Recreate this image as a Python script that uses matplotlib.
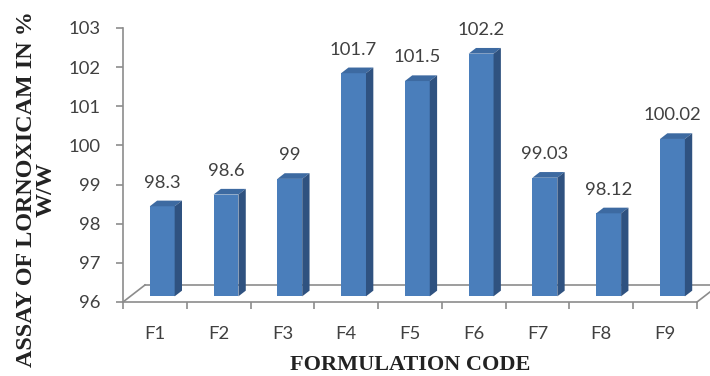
import matplotlib.pyplot as plt
from matplotlib.patches import Polygon

# Assay results per formulation
codes = ['F1', 'F2', 'F3', 'F4', 'F5', 'F6', 'F7', 'F8', 'F9']
assay = [98.3, 98.6, 99, 101.7, 101.5, 102.2, 99.03, 98.12, 100.02]
assay_text = ['98.3', '98.6', '99', '101.7', '101.5', '102.2', '99.03', '98.12', '100.02']
y_ticks = [96, 97, 98, 99, 100, 101, 102, 103]

base = 96
# depth of the 3d floor in data units, and where the columns sit in it
DX, DY = 0.345, 0.435
z0, z1 = 1 / 3, 2 / 3
bar_w = 0.39

front_col = '#4A7EBB'
top_col = '#3D6AA1'
side_col = '#2F5280'
axis_col = '#8C8C8C'
text_col = '#404040'

plt.rcParams['font.family'] = ['Lato', 'DejaVu Sans']


def proj(x, y, z):
    return (x + z * DX, y + z * DY)


fig = plt.figure(figsize=(7.1, 3.76), dpi=100)
ax = fig.add_axes([123 / 710, 74 / 376, 574 / 710, 274 / 376])
ax.set_xlim(-0.5, len(codes) - 0.5)
ax.set_ylim(base, 103)

# floor outline behind the columns
x_lo, x_hi = -0.5, len(codes) - 0.5
floor_kw = dict(color=axis_col, lw=1.2, clip_on=False, zorder=1)
bl = proj(x_lo, base, 1)
br = proj(x_hi, base, 1)
ax.plot([bl[0], br[0]], [bl[1], br[1]], **floor_kw)
ax.plot([x_lo, bl[0]], [base, bl[1]], **floor_kw)
ax.plot([x_hi, br[0]], [base, br[1]], **floor_kw)

# columns: front face, then top and side faces
xs = list(range(len(codes)))
front_x = [proj(x, base, z0)[0] for x in xs]
ax.bar(front_x, [v - base for v in assay], bottom=base + z0 * DY, width=bar_w,
       color=front_col, zorder=3, clip_on=False)

for x, v in zip(front_x, assay):
    xl, xr = x - bar_w / 2, x + bar_w / 2
    top = [(xl, v + z0 * DY), (xr, v + z0 * DY),
           (xr + (z1 - z0) * DX, v + z1 * DY), (xl + (z1 - z0) * DX, v + z1 * DY)]
    side = [(xr, base + z0 * DY), (xr, v + z0 * DY),
            (xr + (z1 - z0) * DX, v + z1 * DY), (xr + (z1 - z0) * DX, base + z1 * DY)]
    ax.add_patch(Polygon(top, closed=True, facecolor=top_col, edgecolor='none',
                         zorder=3, clip_on=False))
    ax.add_patch(Polygon(side, closed=True, facecolor=side_col, edgecolor='none',
                         zorder=3, clip_on=False))

# value labels over each column
for x, v, t in zip(front_x, assay, assay_text):
    ax.annotate(t, (x, v + z1 * DY), xytext=(0, 18), textcoords='offset pixels',
                ha='center', va='center', fontsize=13.3, color=text_col,
                annotation_clip=False)

# axes styling
for s in ['top', 'right']:
    ax.spines[s].set_visible(False)
for s in ['left', 'bottom']:
    ax.spines[s].set_color(axis_col)
    ax.spines[s].set_linewidth(1.2)
ax.spines['left'].set_bounds(96, 103)

ax.set_yticks(y_ticks)
ax.set_yticklabels([str(t) for t in y_ticks])
ax.tick_params(axis='y', direction='out', length=5, width=1.2, color=axis_col,
               labelsize=13.3, labelcolor=text_col, pad=11)

ax.set_xticks(xs)
ax.set_xticklabels(codes)
ax.set_xticks([i - 0.5 for i in range(len(codes) + 1)], minor=True)
ax.tick_params(axis='x', which='major', length=0, labelsize=13.3,
               labelcolor=text_col, pad=17)
ax.tick_params(axis='x', which='minor', direction='out', length=5, width=1.2,
               color=axis_col)

ax.set_xlabel('FORMULATION CODE', family='Liberation Serif', fontweight='bold',
              fontsize=16, color='#222222', va='center')
ax.xaxis.set_label_coords(0.5, -0.23)
ax.set_ylabel('ASSAY OF LORNOXICAM IN %\nW/W', family='Liberation Serif',
              fontweight='bold', fontsize=17.4, color='#222222', va='center',
              ha='center', multialignment='center', linespacing=0.93)
ax.yaxis.set_label_coords(-0.1516, 0.412)

fig.savefig('out.png', dpi=100)
